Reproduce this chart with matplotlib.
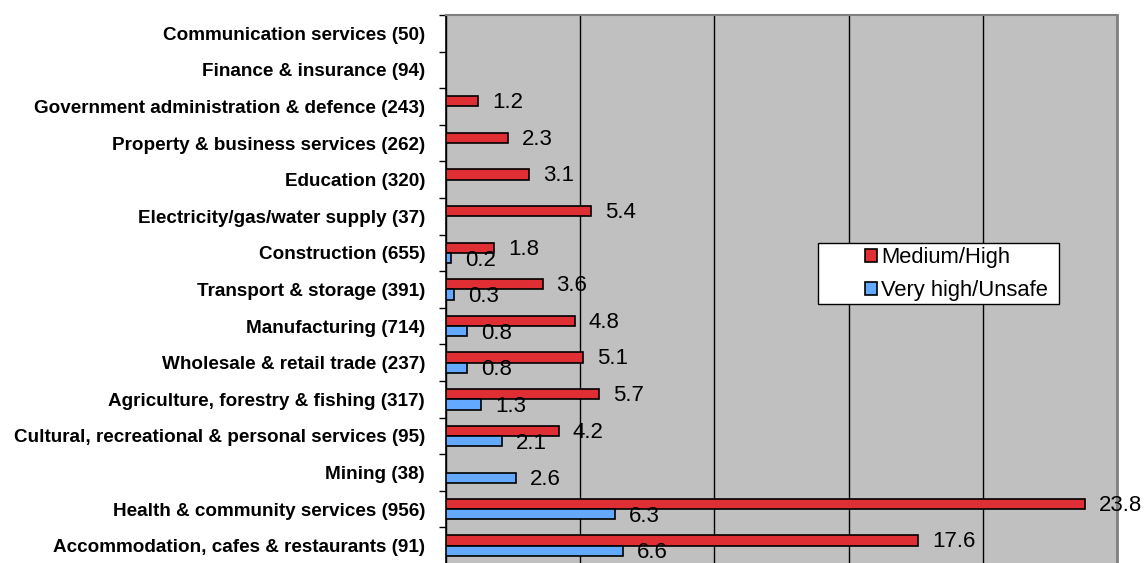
import numpy as np
import matplotlib
matplotlib.use("Agg")
import matplotlib.pyplot as plt
from matplotlib.patches import Patch, Rectangle

plt.rcParams['font.family'] = ['Liberation Sans', 'DejaVu Sans']

categories = [
    "Communication services (50)",
    "Finance & insurance (94)",
    "Government administration & defence (243)",
    "Property & business services (262)",
    "Education (320)",
    "Electricity/gas/water supply (37)",
    "Construction (655)",
    "Transport & storage (391)",
    "Manufacturing (714)",
    "Wholesale & retail trade (237)",
    "Agriculture, forestry & fishing (317)",
    "Cultural, recreational & personal services (95)",
    "Mining (38)",
    "Health & community services (956)",
    "Accommodation, cafes & restaurants (91)",
]
medium_high = [np.nan, np.nan, 1.2, 2.3, 3.1, 5.4, 1.8, 3.6, 4.8, 5.1, 5.7, 4.2, np.nan, 23.8, 17.6]
very_high = [np.nan, np.nan, np.nan, np.nan, np.nan, np.nan, 0.2, 0.3, 0.8, 0.8, 1.3, 2.1, 2.6, 6.3, 6.6]
series_names = ["Medium/High", "Very high/Unsafe"]
x_ticks = [0, 5, 10, 15, 20, 25]

RED = "#E02E35"
BLUE = "#63A9FF"

W, H = 1148, 563
fig = plt.figure(figsize=(W / 100, H / 100), dpi=100)
ax = fig.add_axes([446 / W, 1 - 564 / H, 671 / W, 549 / H])
ax.set_facecolor("#C0C0C0")

y = np.arange(len(categories))
h = 0.28
mh = np.array(medium_high, dtype=float)
vh = np.array(very_high, dtype=float)
ax.barh(y - h / 2, np.nan_to_num(mh), height=h, color=RED, edgecolor="black", linewidth=1.2, zorder=3)
ax.barh(y + h / 2, np.nan_to_num(vh), height=h, color=BLUE, edgecolor="black", linewidth=1.2, zorder=3)

for yi, v in zip(y, mh):
    if not np.isnan(v):
        ax.annotate(f"{v:.1f}", (v, yi - h / 2), xytext=(10, -1), textcoords="offset points",
                    va="center", ha="left", fontsize=16, zorder=5, annotation_clip=False)
for yi, v in zip(y, vh):
    if not np.isnan(v):
        ax.annotate(f"{v:.1f}", (v, yi + h / 2), xytext=(10, -1.5), textcoords="offset points",
                    va="center", ha="left", fontsize=16, zorder=5, annotation_clip=False)

ax.set_xlim(0, 25)
ax.set_ylim(len(categories) - 0.5, -0.5)
ax.set_xticks(x_ticks)
ax.xaxis.grid(True, color="black", linewidth=1.0, zorder=1)
ax.tick_params(axis="x", bottom=False, labelbottom=False)

ax.set_yticks(np.arange(len(categories) + 1) - 0.5)
ax.set_yticklabels([])
ax.tick_params(axis="y", which="major", length=5, width=1, color="black")
ax.set_yticks(y, minor=True)
ax.set_yticklabels(categories, minor=True, fontsize=13.6, fontweight="bold")
ax.tick_params(axis="y", which="minor", length=0, pad=15)

ax.spines["left"].set_color("black")
ax.spines["left"].set_linewidth(1.2)
ax.spines["top"].set_color("#808080")
ax.spines["top"].set_linewidth(1.5)
ax.spines["right"].set_color("#808080")
ax.spines["right"].set_linewidth(2)
ax.spines["bottom"].set_visible(False)

# legend box
fig.patches.append(Rectangle((818 / W, 1 - 304 / H), (1059 - 818) / W, (304 - 243) / H,
                             transform=fig.transFigure, facecolor="white", edgecolor="black",
                             linewidth=1, zorder=10))
handles = [Patch(facecolor=RED, edgecolor="black", linewidth=1.2),
           Patch(facecolor=BLUE, edgecolor="black", linewidth=1.2)]
leg = fig.legend(handles, series_names, loc="center left", bbox_to_anchor=(850 / W, 1 - 274 / H),
                 frameon=False, fontsize=15.8, handlelength=0.52, handleheight=0.52,
                 handletextpad=0.2, labelspacing=0.55, borderpad=0.2)
leg.set_zorder(11)

fig.savefig("out.png", dpi=100)
